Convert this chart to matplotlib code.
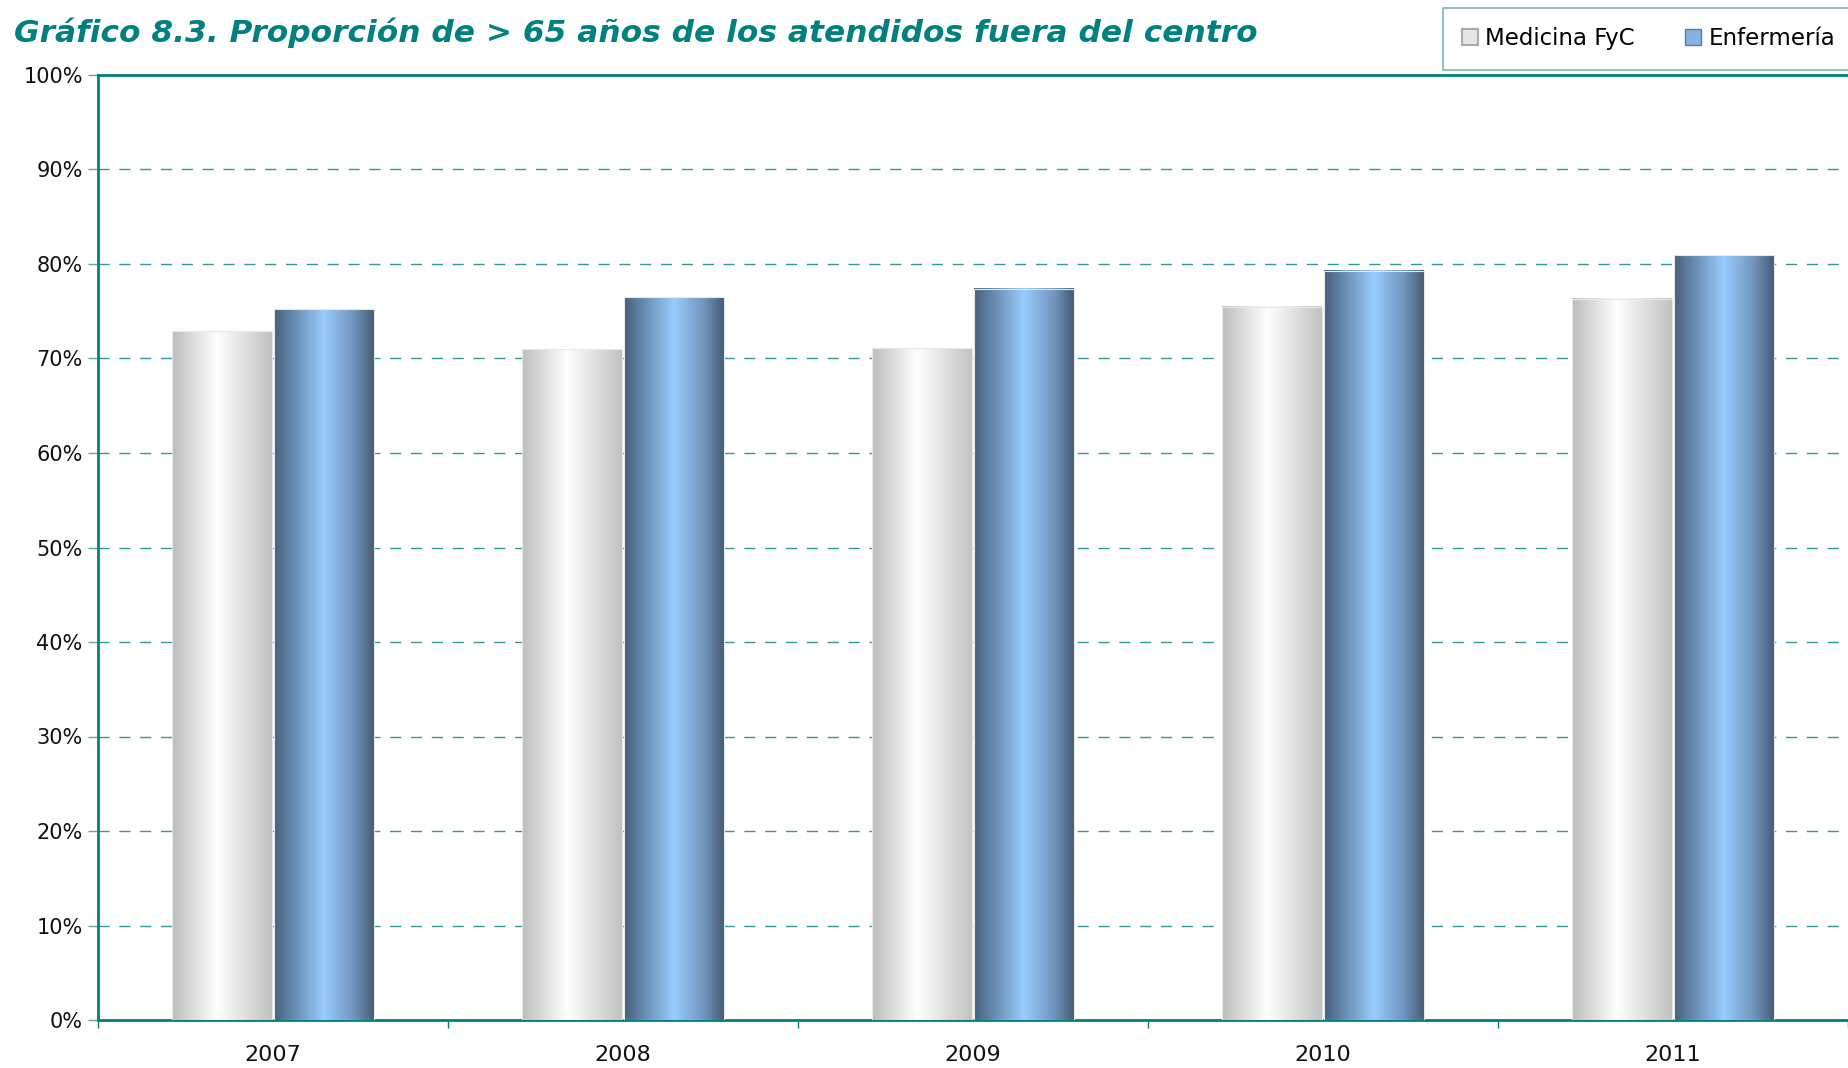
import matplotlib
matplotlib.use("Agg")
import matplotlib.pyplot as plt
import numpy as np
from matplotlib.colors import LinearSegmentedColormap
from matplotlib.patches import Patch
from matplotlib.ticker import FuncFormatter, FixedLocator

# datos (%)
years = ["2007", "2008", "2009", "2010", "2011"]
medicina = [72.9, 71.0, 71.1, 75.5, 76.3]
enfermeria = [75.2, 76.5, 77.4, 79.3, 80.9]
series_names = ["Medicina FyC", "Enfermería"]

TEAL = "#008080"

cmap_med = LinearSegmentedColormap.from_list(
    "med", [(0.0, "#bdbdbd"), (0.45, "#ffffff"), (0.9, "#cdcdcd"), (1.0, "#c2c2c2")])
cmap_enf = LinearSegmentedColormap.from_list(
    "enf", [(0.0, "#47607c"), (0.5, "#99ccff"), (0.8, "#7195bd"), (1.0, "#465c76")])

fig = plt.figure(figsize=(18.48, 10.68), dpi=100)
ax = fig.add_axes([98 / 1848, 1 - 1020 / 1068, 1 - 98 / 1848, (1020 - 75) / 1068])

x = np.arange(len(years))
w = 0.285
gap = 0.004
grad = np.linspace(0, 1, 256).reshape(1, -1)

for vals, off, cmap in [(medicina, -w / 2 - gap, cmap_med), (enfermeria, w / 2 + gap, cmap_enf)]:
    bars = ax.bar(x + off, vals, width=w, facecolor="none", edgecolor="#e8e8e8",
                  linewidth=0.8, zorder=4)
    for b in bars:
        x0, y0 = b.get_x(), b.get_y()
        ax.imshow(grad, cmap=cmap, aspect="auto", zorder=3,
                  extent=(x0, x0 + b.get_width(), y0, y0 + b.get_height()))

ax.set_xlim(-0.5, len(years) - 0.5)
ax.set_ylim(0, 100)

# ejes
ax.yaxis.set_major_locator(FixedLocator(np.arange(0, 101, 10)))
ax.yaxis.set_major_formatter(FuncFormatter(lambda v, p: f"{v:.0f}%"))
ax.set_xticks(x)
ax.set_xticklabels(years)
ax.set_xticks(np.arange(-0.5, len(years), 1.0), minor=True)
ax.tick_params(axis="x", which="major", length=0, labelsize=16, pad=18, colors="#111111")
ax.tick_params(axis="x", which="minor", length=6, width=1, color=TEAL)
ax.tick_params(axis="y", length=7, width=1, color="#5aa5a5", labelsize=15,
               labelcolor="#111111", pad=4)

for gy in range(10, 100, 10):
    ax.axhline(gy, color="#2e9a9a", lw=1.0, ls=(0, (8, 7)), zorder=1)

for s in ["left", "bottom", "top"]:
    ax.spines[s].set_color(TEAL)
    ax.spines[s].set_linewidth(2)
ax.spines["right"].set_visible(False)

fig.text(0.0076, 0.969, "Gráfico 8.3. Proporción de > 65 años de los atendidos fuera del centro",
         fontsize=22.5, fontweight="bold", fontstyle="italic", color=TEAL, va="center", ha="left")

handles = [Patch(facecolor="#e6e6e6", edgecolor="#aaaaaa", lw=1.5),
           Patch(facecolor="#86b2e0", edgecolor="#5a7a9c", lw=1.0)]
leg = fig.legend(handles, series_names, loc="upper right", bbox_to_anchor=(1.006, 0.997),
                 ncol=2, frameon=True, fancybox=False, fontsize=16.5, handlelength=0.7,
                 handleheight=0.7, handletextpad=0.3, columnspacing=2.2, borderpad=0.85,
                 borderaxespad=0.2)
leg.get_frame().set_edgecolor("#5aa5a5")
leg.get_frame().set_linewidth(1.2)

fig.savefig("out.png", dpi=100)
